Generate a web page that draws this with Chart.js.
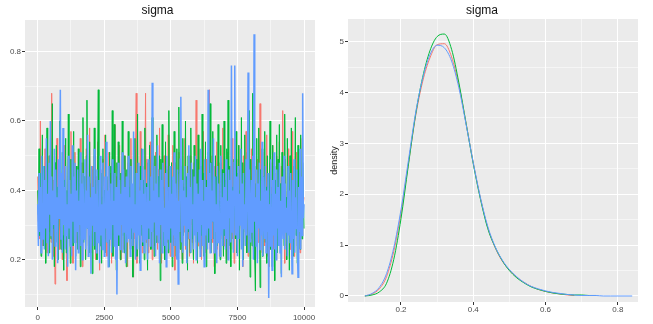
<!DOCTYPE html>
<html>
<head>
<meta charset="utf-8">
<script src="https://cdn.jsdelivr.net/npm/chart.js@4.4.0/dist/chart.umd.min.js"></script>
<style>
  body { margin: 0; background: #fff; }
  canvas { position: absolute; top: 0; }
  #trace { left: 0; }
  #dens { left: 326px; }
</style>
</head>
<body>
<canvas id="trace" width="340" height="324"></canvas>
<canvas id="dens" width="316" height="324"></canvas>
<script>
// trace plot: sigma draws per chain, one kept every 25 iterations
const iterStep = 25;
const chain1 = [
  .44,.31,.38,.26,.60,.33,.42,.24,.47,.29,.36,.52,.27,.40,.22,.45,.34,.50,.28,.37,
  .25,.68,.32,.43,.21,.39,.13,.46,.30,.55,.26,.41,.35,.23,.48,.31,.38,.20,.44,.33,
  .53,.27,.40,.22,.14,.36,.49,.29,.42,.24,.57,.32,.37,.19,.45,.28,.51,.34,.25,.41,
  .30,.46,.23,.39,.55,.27,.43,.18,.48,.35,.26,.40,.21,.52,.31,.44,.24,.37,.58,.29,
  .42,.22,.47,.33,.27,.50,.36,.20,.44,.30,.54,.25,.39,.17,.46,.32,.41,.23,.49,.28,
  .35,.56,.26,.43,.21,.38,.30,.51,.24,.45,.33,.19,.48,.27,.40,.59,.29,.36,.22,.44,
  .31,.47,.25,.53,.34,.20,.42,.28,.39,.23,.50,.32,.45,.26,.37,.18,.48,.30,.43,.24,
  .55,.29,.40,.21,.15,.33,.26,.52,.68,.19,.44,.28,.41,.24,.57,.31,.38,.22,.47,.27,
  .36,.43,.68,.25,.49,.30,.22,.45,.34,.54,.27,.40,.20,.48,.32,.37,.24,.51,.29,.42,
  .23,.46,.31,.58,.26,.39,.19,.44,.35,.28,.50,.22,.41,.33,.47,.25,.56,.30,.38,.21,
  .45,.32,.27,.53,.24,.40,.17,.48,.36,.29,.43,.22,.51,.31,.38,.25,.46,.20,.42,.34,
  .28,.55,.23,.41,.33,.47,.26,.39,.21,.50,.30,.44,.25,.37,.19,.48,.32,.42,.66,.27,
  .40,.24,.52,.35,.29,.45,.20,.43,.31,.57,.26,.38,.22,.49,.34,.41,.28,.46,.69,.23,
  .37,.30,.50,.25,.44,.18,.47,.33,.27,.54,.23,.40,.36,.21,.48,.29,.43,.26,.58,.32,
  .24,.45,.31,.39,.20,.51,.28,.42,.35,.23,.47,.30,.55,.26,.38,.19,.44,.33,.49,.25,
  .41,.27,.53,.22,.46,.34,.29,.40,.18,.50,.31,.43,.24,.57,.28,.36,.21,.48,.32,.44,
  .26,.52,.30,.38,.23,.46,.35,.20,.42,.29,.49,.25,.37,.33,.65,.27,.44,.22,.51,.31,
  .39,.24,.47,.28,.56,.21,.43,.34,.18,.48,.30,.41,.26,.53,.23,.45,.32,.37,.20,.50,
  .29,.44,.25,.54,.33,.22,.47,.38,.63,.27,.42,.19,.49,.31,.36,.24,.52,.28,.45,.23,
  .40,.32,.57,.26,.43,.21,.48,.35,.29,.51,.24,.39,.30,.46,.22,.55,.33,.27,.44,.36,
  .38
];
const chain2 = [
  .40,.33,.52,.27,.45,.21,.38,.56,.30,.24,.47,.35,.19,.42,.58,.28,.36,.22,.50,.31,
  .26,.44,.65,.29,.37,.18,.48,.33,.53,.25,.41,.20,.46,.60,.30,.23,.39,.51,.27,.17,
  .43,.34,.55,.22,.40,.29,.62,.26,.36,.19,.49,.32,.45,.24,.57,.28,.38,.21,.47,.35,
  .23,.52,.30,.42,.18,.48,.27,.37,.61,.25,.44,.33,.20,.50,.66,.29,.39,.22,.54,.31,
  .26,.46,.16,.41,.35,.58,.23,.43,.30,.20,.49,.69,.28,.34,.24,.45,.19,.38,.52,.27,
  .40,.22,.56,.31,.44,.25,.37,.18,.51,.29,.47,.33,.63,.21,.42,.59,.26,.36,.17,.48,
  .30,.54,.24,.39,.20,.45,.32,.60,.27,.43,.22,.50,.35,.18,.46,.28,.57,.31,.41,.23,
  .49,.26,.38,.15,.44,.33,.55,.25,.40,.21,.62,.30,.36,.19,.47,.27,.52,.34,.24,.43,
  .20,.58,.29,.42,.31,.17,.48,.26,.53,.35,.23,.45,.61,.28,.39,.21,.50,.32,.25,.56,
  .37,.44,.27,.50,.14,.49,.33,.59,.24,.41,.30,.20,.54,.28,.46,.36,.22,.63,.31,.40,
  .25,.48,.18,.43,.34,.57,.26,.39,.21,.52,.29,.45,.64,.30,.23,.47,.37,.19,.55,.27,
  .41,.32,.60,.24,.44,.17,.50,.28,.38,.22,.58,.33,.46,.26,.20,.53,.35,.42,.25,.49,
  .19,.56,.30,.40,.23,.47,.27,.62,.34,.21,.45,.29,.54,.18,.43,.36,.51,.25,.39,.65,
  .22,.48,.31,.57,.26,.41,.16,.50,.33,.44,.24,.59,.29,.37,.20,.53,.28,.46,.35,.21,
  .60,.27,.43,.19,.52,.32,.66,.24,.47,.38,.18,.55,.30,.41,.23,.49,.34,.26,.57,.22,
  .45,.29,.53,.17,.40,.31,.61,.25,.48,.20,.36,.56,.28,.44,.22,.51,.33,.27,.63,.15,
  .49,.30,.24,.68,.36,.47,.20,.11,.42,.55,.26,.38,.58,.33,.12,.46,.29,.52,.21,.44,
  .34,.57,.25,.41,.19,.50,.28,.45,.36,.60,.23,.39,.18,.53,.31,.47,.14,.43,.27,.56,
  .22,.49,.35,.59,.26,.42,.16,.51,.30,.46,.24,.62,.33,.38,.20,.55,.28,.44,.17,.50,
  .32,.58,.25,.41,.21,.47,.36,.61,.27,.43,.19,.53,.30,.45,.23,.56,.34,.26,.48,.40,
  .29
];
const chain3 = [
  .36,.24,.45,.28,.41,.22,.50,.31,.26,.47,.23,.43,.29,.55,.25,.39,.21,.48,.33,.60,
  .27,.44,.20,.40,.30,.52,.24,.46,.28,.38,.19,.49,.32,.42,.69,.26,.45,.22,.58,.30,
  .41,.23,.47,.27,.36,.18,.50,.29,.43,.24,.39,.21,.53,.31,.44,.25,.48,.17,.40,.28,
  .46,.22,.37,.30,.51,.24,.42,.20,.45,.33,.26,.49,.23,.40,.29,.56,.21,.44,.27,.38,
  .16,.47,.30,.41,.24,.52,.28,.39,.22,.46,.31,.25,.43,.19,.50,.27,.36,.23,.48,.32,
  .21,.44,.29,.54,.25,.40,.18,.47,.33,.26,.42,.22,.49,.30,.37,.24,.45,.20,.41,.10,
  .35,.48,.27,.43,.23,.39,.30,.51,.22,.46,.28,.41,.19,.44,.32,.25,.50,.26,.38,.21,
  .47,.29,.42,.24,.57,.28,.36,.20,.45,.31,.23,.48,.27,.40,.17,.43,.30,.52,.25,.39,
  .22,.46,.33,.26,.41,.20,.49,.29,.37,.24,.44,.28,.71,.23,.40,.31,.47,.21,.42,.27,
  .53,.25,.38,.19,.46,.30,.43,.22,.48,.28,.35,.24,.45,.18,.50,.32,.26,.41,.23,.47,
  .29,.39,.21,.44,.27,.51,.24,.42,.31,.20,.46,.13,.37,.28,.49,.67,.25,.43,.22,.40,
  .30,.47,.24,.38,.19,.45,.29,.53,.26,.41,.22,.48,.32,.36,.23,.44,.27,.50,.20,.42,
  .28,.39,.25,.46,.21,.52,.30,.43,.24,.37,.18,.49,.27,.41,.33,.23,.69,.29,.45,.22,
  .48,.26,.40,.31,.55,.22,.44,.28,.36,.19,.47,.25,.42,.30,.21,.50,.27,.38,.24,.45,
  .29,.41,.23,.49,.26,.37,.20,.46,.32,.43,.25,.76,.28,.40,.22,.48,.76,.27,.44,.31,
  .21,.47,.26,.39,.30,.52,.23,.42,.18,.45,.29,.36,.24,.49,.27,.41,.74,.22,.46,.33,
  .25,.43,.28,.50,.20,.85,.31,.38,.24,.46,.19,.42,.29,.48,.23,.37,.27,.54,.21,.44,
  .32,.26,.47,.22,.40,.28,.45,.09,.36,.24,.49,.30,.17,.43,.27,.51,.23,.39,.20,.46,
  .29,.41,.24,.48,.22,.37,.15,.44,.31,.26,.50,.23,.42,.28,.35,.21,.47,.27,.40,.25,
  .45,.30,.16,.43,.26,.49,.22,.38,.29,.46,.24,.15,.41,.28,.52,.23,.44,.27,.68,.32,
  .36
];

// density plot
const densX = [
  0.10,0.12,0.14,0.16,0.18,0.20,0.22,0.24,0.26,0.28,0.30,0.32,0.34,0.36,0.38,0.40,0.42,0.44,0.46,
  0.48,0.50,0.52,0.54,0.56,0.58,0.60,0.62,0.64,0.66,0.68,0.70,0.72,0.74,0.76,0.78,0.80,0.82,0.84
];
const dens1 = [0,.04,.14,.38,.88,1.63,2.58,3.52,4.22,4.68,4.94,4.96,4.70,4.15,3.40,2.62,1.92,1.35,.96,.69,.51,.37,.27,.19,.13,.09,.06,.04,.02,.01];
const dens2 = [0,.02,.08,.25,.72,1.52,2.55,3.55,4.30,4.82,5.10,5.15,4.85,4.20,3.40,2.60,1.90,1.33,.97,.70,.50,.36,.26,.18,.13,.09,.06,.04,.03,.02,.02,.01,.01];
const dens3 = [0,.05,.17,.44,.95,1.70,2.64,3.58,4.28,4.74,4.93,4.88,4.62,4.10,3.38,2.62,1.93,1.37,.98,.71,.52,.38,.27,.19,.14,.10,.07,.05,.03,.02,.01,.01,.01,0,0,0,0,0];

// tick labels
const traceXMajor = [0, 2500, 5000, 7500, 10000];
const traceXMinor = [1250, 3750, 6250, 8750];
const traceYMajor = [0.2, 0.4, 0.6, 0.8];
const traceYMinor = [0.1, 0.3, 0.5, 0.7];
const densXMajor = [0.2, 0.4, 0.6, 0.8];
const densXMinor = [0.1, 0.3, 0.5, 0.7];
const densYMajor = [0, 1, 2, 3, 4, 5];
const densYMinor = [0.5, 1.5, 2.5, 3.5, 4.5];

const colors = ['#F8766D', '#00BA38', '#619CFF'];
const font = 'Liberation Sans, Arial, sans-serif';

const panelBg = {
  id: 'panelBg',
  beforeDraw(chart) {
    const { ctx, chartArea: a } = chart;
    ctx.save();
    ctx.fillStyle = '#EBEBEB';
    ctx.fillRect(a.left, a.top, a.width, a.height);
    ctx.restore();
  }
};

function axis(major, minor, min, max, size, isX, pad) {
  return {
    type: 'linear',
    min: min,
    max: max,
    border: { display: false },
    grid: {
      color: '#ffffff',
      lineWidth: (c) => major.includes(c.tick.value) ? 1 : 0.5,
      tickColor: (c) => major.includes(c.tick.value) ? '#333333' : 'rgba(0,0,0,0)',
      tickLength: 3,
      tickWidth: 1
    },
    ticks: {
      autoSkip: false,
      maxRotation: 0,
      padding: pad,
      color: '#4D4D4D',
      font: { family: font, size: 8 },
      callback: (v) => major.includes(v) ? String(v) : ''
    },
    afterBuildTicks: (s) => {
      s.ticks = major.concat(minor).sort((a, b) => a - b).map((v) => ({ value: v }));
    },
    afterFit: (s) => {
      if (isX) s.height = size; else s.width = size;
    }
  };
}

function titleOpts(padBottom) {
  return {
    display: true,
    text: 'sigma',
    color: '#111111',
    font: { family: font, size: 12, weight: 'normal' },
    padding: { top: 3, bottom: padBottom }
  };
}

// blue chain is drawn on top, the way ggplot stacks the chains
const traceWidths = [1.5, 1, 1];
const traceSets = [chain3, chain2, chain1].map((vals, k) => ({
  data: vals.map((v, i) => ({ x: i * iterStep, y: v })),
  borderColor: colors[2 - k],
  borderWidth: traceWidths[k],
  pointRadius: 0,
  tension: 0
}));

new Chart(document.getElementById('trace'), {
  type: 'line',
  data: { datasets: traceSets },
  options: {
    responsive: false,
    animation: false,
    layout: { padding: { left: 0, right: 25, top: 0, bottom: 0 } },
    plugins: { legend: { display: false }, tooltip: { enabled: false }, title: titleOpts(2.6) },
    scales: {
      x: axis(traceXMajor, traceXMinor, -477, 10413, 17, true, 3),
      y: axis(traceYMajor, traceYMinor, 0.064, 0.891, 25, false, 1)
    }
  },
  plugins: [panelBg]
});

const densSets = [dens3, dens2, dens1].map((vals, k) => ({
  data: vals.map((v, i) => ({ x: densX[i], y: v })),
  borderColor: colors[2 - k],
  borderWidth: 1,
  pointRadius: 0,
  cubicInterpolationMode: 'monotone'
}));

const densY = axis(densYMajor, densYMinor, -0.118, 5.446, 22, false, 1);
densY.title = {
  display: true,
  text: 'density',
  color: '#222222',
  font: { family: font, size: 9 },
  padding: { top: 3, bottom: 0 }
};

new Chart(document.getElementById('dens'), {
  type: 'line',
  data: { datasets: densSets },
  options: {
    responsive: false,
    animation: false,
    layout: { padding: { left: 0, right: 4, top: 0, bottom: 0 } },
    plugins: { legend: { display: false }, tooltip: { enabled: false }, title: titleOpts(1.6) },
    scales: {
      x: axis(densXMajor, densXMinor, 0.0533, 0.856, 22, true, 0),
      y: densY
    }
  },
  plugins: [panelBg]
});
</script>
</body>
</html>
